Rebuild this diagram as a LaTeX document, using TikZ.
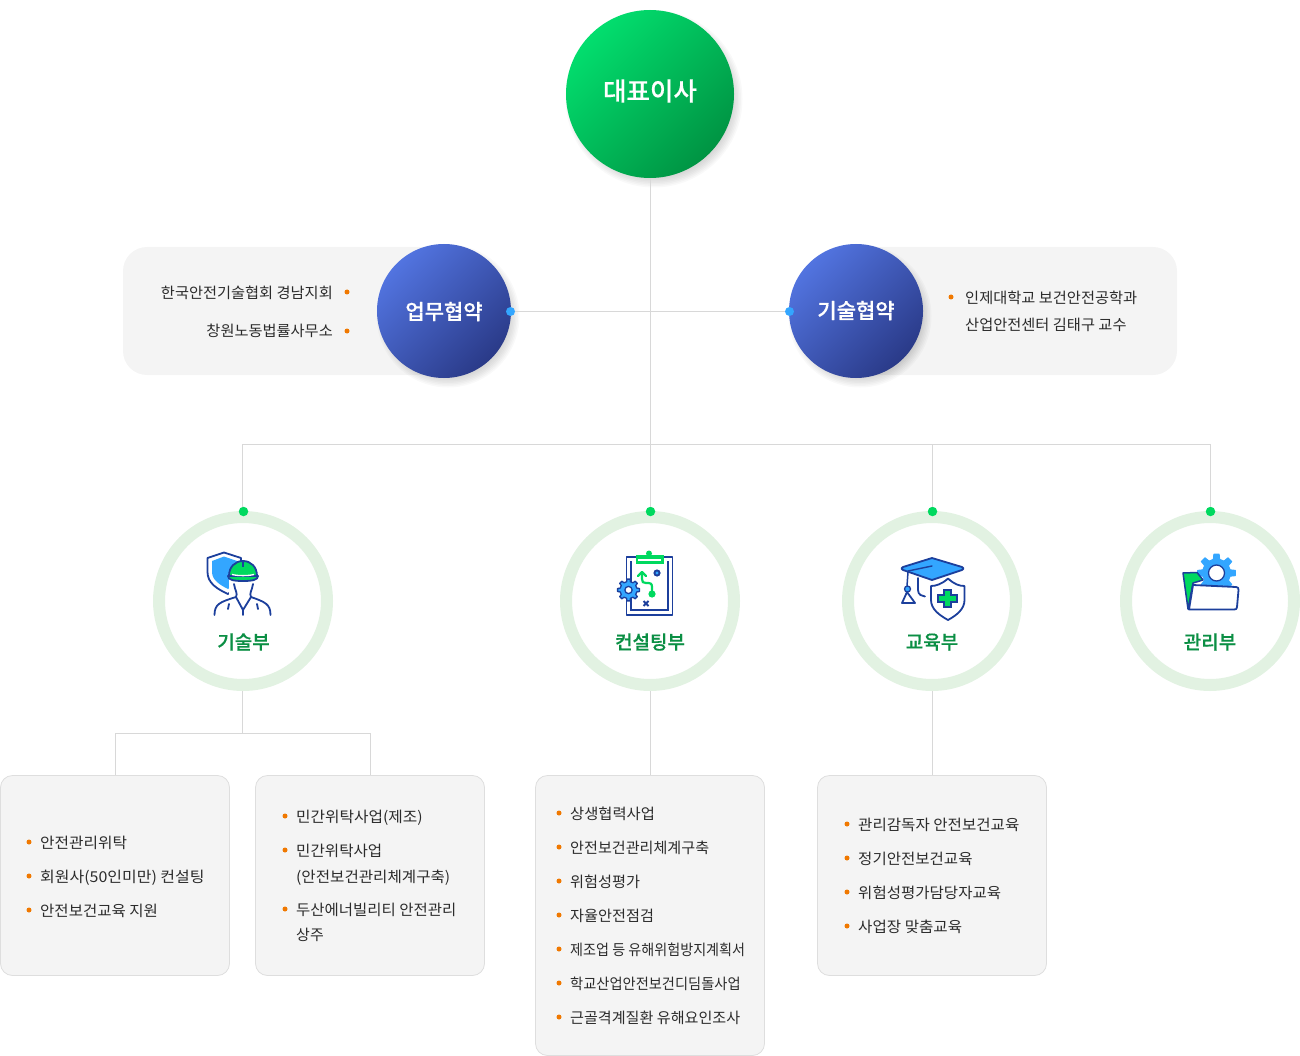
\documentclass[tikz,border=0pt]{standalone}
\usepackage{fontspec}
\usepackage{graphicx}
\setmainfont{Noto Sans CJK KR}
\newfontfamily\krmed[FakeBold=0.5]{Noto Sans CJK KR Medium}
\usetikzlibrary{calc}
\definecolor{navy}{HTML}{1C3F9C}
\definecolor{skyb}{HTML}{33A6FF}
\definecolor{grn}{HTML}{00D95F}
\definecolor{ringc}{HTML}{E2F2E2}
\definecolor{panel}{HTML}{F4F4F4}
\definecolor{linec}{HTML}{D8D8D8}
\definecolor{boxl}{HTML}{DEDEDE}
\definecolor{orng}{HTML}{F07800}
\definecolor{txt}{HTML}{2B2B2B}
\definecolor{lab}{HTML}{0B8F44}
\definecolor{bosst}{HTML}{02DE6E}
\definecolor{bossb}{HTML}{009443}
\definecolor{bluet}{HTML}{5274E0}
\definecolor{blueb}{HTML}{2A3A88}
\tikzset{
 conn/.style={draw=linec,line width=1pt},
 panelbox/.style={fill=panel,rounded corners=24pt},
 listbox/.style={draw=boxl,fill=panel,line width=.8pt,rounded corners=12pt},
 bosscirc/.style={circle,inner sep=0pt,minimum size=168pt,top color=bosst,bottom color=bossb,shading angle=45},
 bluecirc/.style={circle,inner sep=0pt,minimum size=134pt,top color=bluet,bottom color=blueb,shading angle=45},
 ringn/.style={circle,inner sep=0pt,minimum size=168pt,draw=ringc,fill=white,line width=12pt},
 gdot/.style={circle,inner sep=0pt,minimum size=9.5pt,fill=grn},
 bdot/.style={circle,inner sep=0pt,minimum size=9pt,fill=skyb},
 odot/.style={circle,inner sep=0pt,minimum size=5pt,fill=orng},
 item/.style={inner sep=0pt,yshift=-1.7pt,text=txt,font=\fontsize{15}{15}\selectfont,text height=11pt,text depth=2pt},
 dept/.style={inner sep=0pt,text=lab,font=\fontsize{19}{19}\krmed\selectfont},
 titl/.style={text=white,inner sep=0pt},
 ico/.style={draw=navy,line width=1.8pt,line join=round,line cap=round},
}
\newcommand\li[6][1]{\node[odot] (b#2) at (#3,#5) {};\node[item,anchor=west] (t#2) at (#4,#5) {\scalebox{#1}[1]{#6}};}
\newcommand\softshadow[3]{\foreach \k in {1,...,7}{\fill[black,opacity=.022] (#1+4,#2+5) circle ({#3+6-\k*1.5});}}
\newcommand\gearp[5]{%
 \draw[#5] ($(#1,#2)+(-13:#3)$) \foreach \a in {0,45,...,315}{ -- ($(#1,#2)+(\a-13:#3)$) -- ($(#1,#2)+(\a-8:#4)$) -- ($(#1,#2)+(\a+8:#4)$) -- ($(#1,#2)+(\a+13:#3)$)} -- cycle;}
\begin{document}
\begin{tikzpicture}[x=1pt,y=-1pt]
\useasboundingbox (0,0) rectangle (1300,1056);
% panels
\fill[panelbox] (123,247) rectangle (450,375);
\fill[panelbox] (850,247) rectangle (1177,375);
\draw[listbox] (0.5,775.5) rectangle (229.5,975.5);
\draw[listbox] (255.5,775.5) rectangle (484.5,975.5);
\draw[listbox] (535.5,775.5) rectangle (764.5,1055.5);
\draw[listbox] (817.5,775.5) rectangle (1046.5,975.5);
% anchors
\coordinate (j) at (650.5,444.5);
\coordinate (j1) at (242.5,444.5);
\coordinate (j2) at (242.5,733.5);
\coordinate (lb1) at (115.5,775);
\coordinate (lb2) at (370.5,775);
\coordinate (lb3) at (650.5,775);
\coordinate (lb4) at (932.5,775);
% shadows
\softshadow{650}{94}{84}
\softshadow{444}{311}{67}
\softshadow{856}{311}{67}
% rings
\node[ringn] (r1) at (243,601) {};
\node[ringn] (r2) at (650,601) {};
\node[ringn] (r3) at (932,601) {};
\node[ringn] (r4) at (1210,601) {};
% circles
\node[bosscirc] (ceo) at (650,94) {};
\node[bluecirc] (bz) at (444,311) {};
\node[bluecirc] (tc) at (856,311) {};
% dots
\node[gdot] (d1) at (243.5,511.5) {};
\node[gdot] (d2) at (650.5,511.5) {};
\node[gdot] (d3) at (932.5,511.5) {};
\node[gdot] (d4) at (1210.5,511.5) {};
\node[bdot] (bzd) at (510.5,311.5) {};
\node[bdot] (tcd) at (789.5,311.5) {};
% connectors
\begin{scope}
\draw[conn] (ceo.south -| j) -- (j) -- (d2.north);
\draw[conn] (bzd.east) -- (tcd.west);
\draw[conn] (j1 |- d1.north) -- (j1) -- (j -| d4) -- (d4.north);
\draw[conn] (j -| d3) -- (d3.north);
\draw[conn] (r1.south -| j2) -- (j2);
\draw[conn] (j2) -| (lb1);
\draw[conn] (j2) -| (lb2);
\draw[conn] (r2.south -| lb3) -- (lb3);
\draw[conn] (r3.south -| lb4) -- (lb4);
\end{scope}
% titles
\node[titl,font=\fontsize{25.5}{25}\krmed\selectfont] (ceot) at (650,91) {대표이사};
\node[titl,font=\fontsize{21}{21}\krmed\selectfont] (bzt) at (444,311.5) {업무협약};
\node[titl,font=\fontsize{21}{21}\krmed\selectfont] (tct) at (856,310.5) {기술협약};
\node[dept] (l1) at (243.5,642) {기술부};
\node[dept] (l2) at (650,642) {컨설팅부};
\node[dept] (l3) at (932,642) {교육부};
\node[dept] (l4) at (1210,642) {관리부};
% lists
\node[item,anchor=east] (tl1) at (333,292) {\scalebox{1.017}[1]{한국안전기술협회 경남지회}};
\node[odot] (bl1) at (347,292) {};
\node[item,anchor=east] (tl2) at (333,330) {\scalebox{1.017}[1]{창원노동법률사무소}};
\node[odot] (bl2) at (347,331) {};
\li[1.018]{r1}{951}{965}{297}{인제대학교 보건안전공학과}
\node[item,anchor=west] (tr2) at (965,324) {\scalebox{1.018}[1]{산업안전센터 김태구 교수}};
\li[1.05]{a1}{29}{40}{842}{안전관리위탁}
\li[1.065]{a2}{29}{40}{876}{회원사(50인미만) 컨설팅}
\li[1.035]{a3}{29}{40}{910}{안전보건교육 지원}
\li[1.05]{c1}{285}{296}{816}{민간위탁사업(제조)}
\li[1.04]{c2}{285}{296}{850}{민간위탁사업}
\node[item,anchor=west] (c2b) at (296,876) {\scalebox{1.04}[1]{(안전보건관리체계구축)}};
\li[1.032]{c3}{285}{296}{909}{두산에너빌리티 안전관리}
\node[item,anchor=west] (c3b) at (296,934) {상주};
\li[1.024]{e1}{559}{570}{813}{상생협력사업}
\li[1.007]{e2}{559}{570}{847}{안전보건관리체계구축}
\li[1.014]{e3}{559}{570}{881}{위험성평가}
\li[1.012]{e4}{559}{570}{915}{자율안전점검}
\li[.94]{e5}{559}{570}{949}{제조업 등 유해위험방지계획서}
\li[.95]{e6}{559}{570}{983}{학교산업안전보건디딤돌사업}
\li[1.006]{e7}{559}{570}{1017}{근골격계질환 유해요인조사}
\li[1.039]{f1}{847}{858}{824}{관리감독자 안전보건교육}
\li[1.036]{f2}{847}{858}{858}{정기안전보건교육}
\li[1.036]{f3}{847}{858}{892}{위험성평가담당자교육}
\li[1.04]{f4}{847}{858}{926}{사업장 맞춤교육}
% icon 1: worker and shield
\draw[ico,fill=white] (207.5,558) -- (224,552.5) -- (241,558) -- (241,578) .. controls (240,585) and (233,590) .. (228,594) .. controls (217,589) and (207.5,583) .. (207.5,572) -- cycle;
\fill[skyb] (212,561) -- (224,556.5) -- (237,561) -- (237,576) .. controls (236,583) and (232,586) .. (228,589) .. controls (220,585) and (212,580) .. (212,572) -- cycle;
\fill[white] (229,578) rectangle (258,598);
\draw[ico] (234,584) .. controls (235,591) and (238,593) .. (236,597);
\draw[ico] (253,584) .. controls (252,591) and (249,593) .. (251,597);
\draw[ico] (214.5,615) .. controls (214.5,604) and (220,602) .. (236,597) -- (243,610) -- (251,597) .. controls (265,602) and (270.5,604) .. (270.5,615);
\draw[ico] (243,610) -- (243,615);
\draw[ico] (229,604) -- (228,609);
\draw[ico] (257,604) -- (258,609);
\draw[ico,fill=grn] (229,576) .. controls (229,567) and (235,561) .. (243,561) .. controls (251,561) and (257,567) .. (257,576) -- cycle;
\draw[ico,fill=grn] (228,576) -- (258,576) .. controls (258,580) and (252,581) .. (243,581) .. controls (234,581) and (228,580) .. (228,576) -- cycle;
\draw[white,line width=1.3pt] (232,574.5) .. controls (238,576) and (248,576) .. (254,574.5);
\draw[navy,line width=1.4pt] (243,561) -- (243,567);
% icon 2: clipboard
\draw[ico,fill=white] (626.5,557) rectangle (672.5,615);
\draw[navy,line width=1.3pt] (631,561) -- (631,610) -- (668,610) -- (668,561);
\fill[grn] (635.5,555) rectangle (663.5,564);
\fill[white] (638,558.5) rectangle (661,560.5);
\fill[grn] (649,553.5) circle (3);
\draw[grn,line width=2.2pt,line cap=round] (652,594) -- (652,587) .. controls (652,583) and (650,583) .. (646,583) .. controls (643,583) and (642,582) .. (642,579) -- (642,573);
\draw[grn,line width=2.2pt,line cap=round,line join=round] (638,576) -- (642,572) -- (646,576);
\fill[grn] (652,594) circle (3.6);
\fill[navy] (657,573) circle (3.6);
\fill[skyb] (657,573) circle (1.6);
\draw[navy,line width=1.8pt] (643.5,601) -- (648.5,606) (648.5,601) -- (643.5,606);
\gearp{628.5}{590}{8.5}{11}{fill=skyb,draw=navy,line width=1.3pt,line join=round}
\draw[navy,line width=1.3pt,fill=white] (628.5,590) circle (3.6);
% icon 3: cap + shield
\draw[ico] (918,578) -- (918,590) .. controls (918,595) and (922,596) .. (925,596.5);
\draw[ico,fill=skyb] (932,558) -- (962,567) .. controls (964,568) and (964,569) .. (962,570) -- (932,580) -- (903,570) .. controls (901,569) and (901,568) .. (903,567) -- cycle;
\draw[navy,line width=1.4pt,line cap=round] (908,571) -- (932,566);
\draw[ico,line width=1.5pt] (908,572) -- (907,586);
\draw[navy,line width=1.3pt,fill=skyb] (907.5,589) circle (3);
\draw[ico,fill=white,line width=1.8pt] (907,592) -- (902,603) -- (915,603) -- cycle;
\draw[ico,fill=white] (948,578.5) .. controls (954,584) and (959,586) .. (964.5,586) -- (964.5,600) .. controls (964.5,609) and (957,615) .. (948,620) .. controls (939,615) and (931,609) .. (931,600) -- (931,586) .. controls (936,586) and (942,584) .. (948,578.5) -- cycle;
\draw[navy,line width=1.5pt,fill=grn] (944,590) -- (951,590) -- (951,595) -- (957,595) -- (957,602) -- (951,602) -- (951,607) -- (944,607) -- (944,602) -- (938,602) -- (938,595) -- (944,595) -- cycle;
% icon 4: folder + gear
\gearp{1216.5}{573}{14}{19}{fill=skyb,draw=skyb,line width=1pt,line join=round}
\draw[navy,line width=1.3pt,fill=white] (1216.5,573) circle (8);
\draw[ico,fill=grn,line width=1.5pt] (1183,573) -- (1197,572.5) -- (1203,580) -- (1193,583) -- (1188,609) -- cycle;
\draw[ico,fill=white] (1193,585) -- (1236,587) .. controls (1238,587) and (1238.5,588) .. (1238.5,590) -- (1237,607) .. controls (1237,609) and (1236,609.5) .. (1234,609.5) -- (1189,609.5) -- cycle;
\end{tikzpicture}
\end{document}
